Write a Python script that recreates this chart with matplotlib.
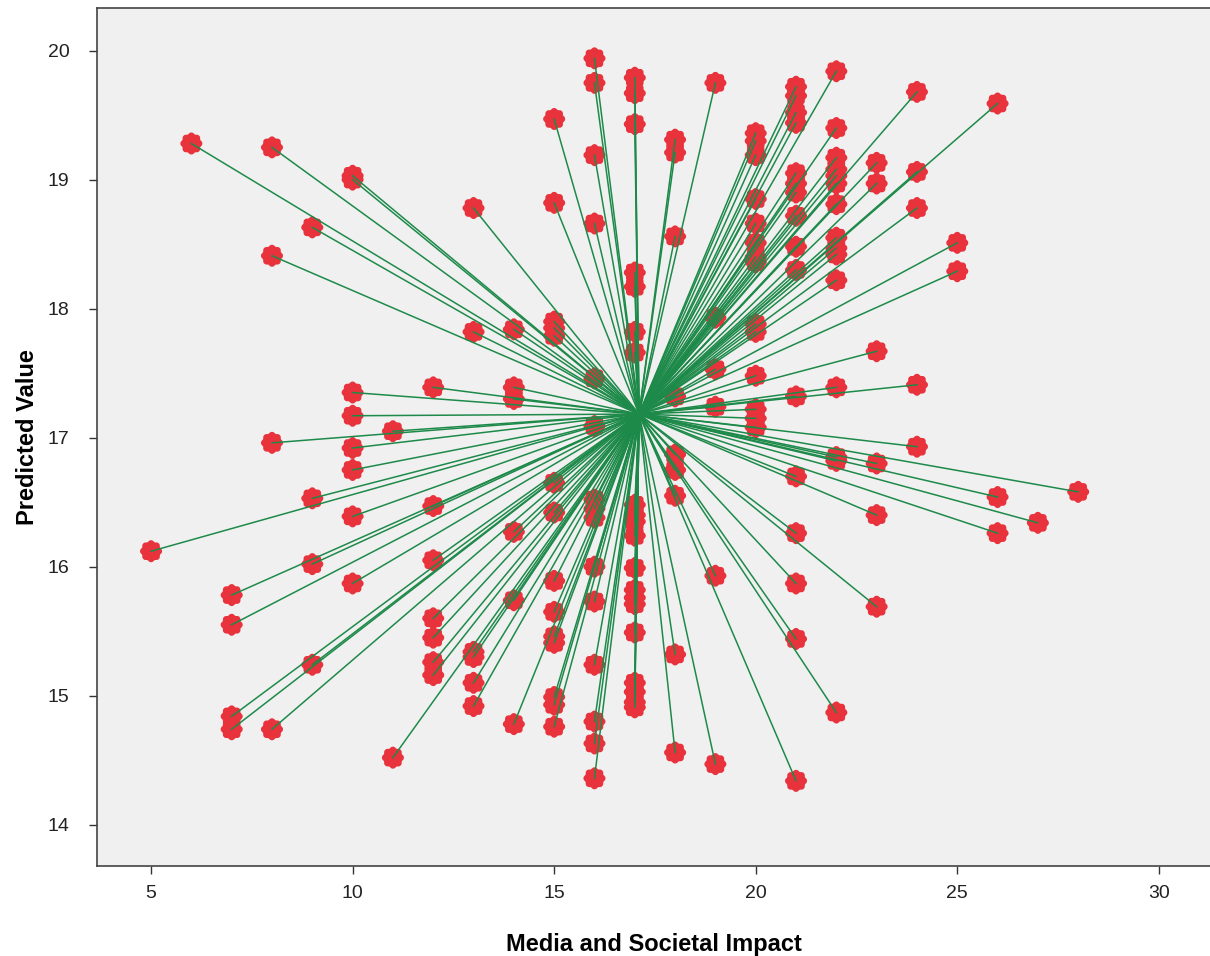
import numpy as np
import matplotlib
matplotlib.use('Agg')
import matplotlib.pyplot as plt
from matplotlib.path import Path

# ── Data: observed x (Media and Societal Impact) and predicted values ──────
X_5 = [16.12]
X_6 = [19.28]
X_7 = [15.78, 15.55, 14.84, 14.74]
X_8 = [19.25, 18.41, 16.96, 14.74]
X_9 = [18.63, 16.53, 16.02, 15.24]
X_10 = [19.03, 19.00, 17.35, 17.17, 16.92, 16.75, 16.39, 15.87]
X_11 = [17.05, 14.52]
X_12 = [17.39, 16.47, 16.05, 15.60, 15.45, 15.26, 15.16]
X_13 = [18.78, 17.82, 15.34, 15.30, 15.10, 14.92]
X_14 = [17.84, 17.39, 17.30, 16.27, 15.74, 14.78]
X_15 = [19.47, 18.82, 17.90, 17.85, 17.79, 16.65, 16.42, 15.89, 15.65,
        15.46, 15.41, 14.99, 14.93, 14.76]
X_16 = [19.94, 19.75, 19.19, 18.66, 17.46, 17.09, 16.52, 16.45, 16.38,
        16.00, 15.73, 15.24, 14.80, 14.63, 14.36]
X_17 = [19.79, 19.67, 19.43, 18.28, 18.17, 17.82, 17.66, 16.48, 16.40,
        16.35, 16.24, 15.99, 15.82, 15.76, 15.71, 15.49, 15.10, 15.03,
        14.95, 14.91]
X_18 = [19.31, 19.21, 18.56, 17.32, 16.87, 16.75, 16.55, 15.32, 14.56]
X_19 = [19.75, 17.93, 17.53, 17.24, 15.93, 14.47]
X_20 = [19.36, 19.30, 19.19, 18.85, 18.66, 18.51, 18.40, 18.36, 17.88,
        17.82, 17.48, 17.22, 17.15, 17.08]
X_21 = [19.72, 19.65, 19.52, 19.44, 19.05, 18.97, 18.90, 18.72, 18.48,
        18.30, 17.32, 16.70, 16.26, 15.87, 15.44, 14.34]
X_22 = [19.84, 19.40, 19.17, 19.08, 19.03, 18.97, 18.81, 18.55, 18.47,
        18.42, 18.22, 17.39, 16.85, 16.82, 14.87]
X_23 = [19.13, 18.97, 17.67, 16.80, 16.40, 15.69]
X_24 = [19.68, 19.06, 18.78, 17.41, 16.93]
X_25 = [18.51, 18.29]
X_26 = [19.59, 16.54, 16.26]
X_27 = [16.34]
X_28 = [16.58]

groups = {5: X_5, 6: X_6, 7: X_7, 8: X_8, 9: X_9, 10: X_10, 11: X_11,
          12: X_12, 13: X_13, 14: X_14, 15: X_15, 16: X_16, 17: X_17,
          18: X_18, 19: X_19, 20: X_20, 21: X_21, 22: X_22, 23: X_23,
          24: X_24, 25: X_25, 26: X_26, 27: X_27, 28: X_28}

media = np.array([k for k, v in groups.items() for _ in v], dtype=float)
predicted = np.array([p for v in groups.values() for p in v])

# centroid = mean of the points (SPSS "fit line to centroid" spikes)
cx, cy = media.mean(), predicted.mean()
print(f'n={len(media)} centroid=({cx:.3f}, {cy:.3f})')

X_TICKS = [5, 10, 15, 20, 25, 30]
Y_TICKS = [14, 15, 16, 17, 18, 19, 20]

# rounded "flower" marker like the SPSS asterisk
th = np.linspace(0, 2 * np.pi, 241)
rr = 1 - 0.12 * np.abs(np.sin(4 * th)) ** 3
flower = Path(np.column_stack([rr * np.cos(th), rr * np.sin(th)]), closed=True)

plt.rcParams.update({'font.family': ['Liberation Sans', 'DejaVu Sans']})

fig = plt.figure(figsize=(12.1, 9.56), dpi=100)
ax = fig.add_axes([0.0802, 0.0941, 0.9198, 0.8975])
ax.set_facecolor('#F0F0F0')

ax.scatter(media, predicted, marker=flower, s=250, color='#E8323C',
           edgecolors='none', zorder=2)
for x, y in zip(media, predicted):
    ax.plot([cx, x], [cy, y], color='#1E8A4A', lw=1.1, zorder=3)

ax.set_xlim(3.66, 31.27)
ax.set_ylim(13.68, 20.33)
ax.set_xticks(X_TICKS)
ax.set_yticks(Y_TICKS)
ax.tick_params(axis='both', labelsize=14, length=6, width=1, color='#333333',
               labelcolor='#222222')
ax.tick_params(axis='y', pad=14)
ax.tick_params(axis='x', pad=8)
for s in ['left', 'bottom', 'top']:
    ax.spines[s].set_color('#444444')
    ax.spines[s].set_linewidth(1.2)
ax.spines['right'].set_visible(False)

ax.set_xlabel('Media and Societal Impact', fontsize=17, fontweight='bold',
              labelpad=22)
ax.set_ylabel('Predicted Value', fontsize=17, fontweight='bold', labelpad=6)

fig.savefig('out.png', dpi=100)
